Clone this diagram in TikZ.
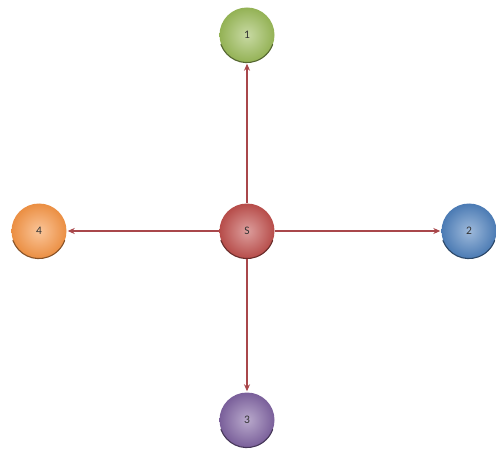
\documentclass[tikz,border=0pt]{standalone}
\usepackage{fontspec}
\setmainfont{Carlito}
\usetikzlibrary{arrows.meta}
\definecolor{cgreen}{HTML}{9BBB59}
\definecolor{cblue}{HTML}{4F81BD}
\definecolor{corange}{HTML}{F79646}
\definecolor{cpurple}{HTML}{8064A2}
\definecolor{cred}{HTML}{C0504D}
\definecolor{linkc}{HTML}{A9474B}
\tikzset{
  ballnode/.style={circle, minimum size=55pt, inner sep=0pt,
    inner color=#1!55!white, outer color=#1!95!black,
    font=\fontsize{11.5}{13}\selectfont, text=black!80},
  rim/.style={draw=#1!55!black, line width=1.1pt, line cap=round},
  link/.style={draw=linkc, line width=1.4pt, -{Stealth[length=7pt,width=6pt]}, shorten >=1pt}
}
\begin{document}
\begin{tikzpicture}[x=1pt,y=-1pt]
\useasboundingbox (0,0) rectangle (497,454);
\node[ballnode=cgreen]  (n1) at (247,35)  {1};
\node[ballnode=cred]    (s)  at (247,231) {S};
\node[ballnode=cblue]   (n2) at (469,231) {2};
\node[ballnode=cpurple] (n3) at (247,420) {3};
\node[ballnode=corange] (n4) at (39,231)  {4};
% darker rim along the lower edge of each ball
\foreach \n/\c in {n1/cgreen,s/cred,n2/cblue,n3/cpurple,n4/corange}{
  \draw[rim=\c] (\n.200) arc[start angle=200, end angle=340, radius=27.5pt];
}
\draw[link] (s) -- (n1);
\draw[link] (s) -- (n2);
\draw[link] (s) -- (n3);
\draw[link] (s) -- (n4);
\end{tikzpicture}
\end{document}
